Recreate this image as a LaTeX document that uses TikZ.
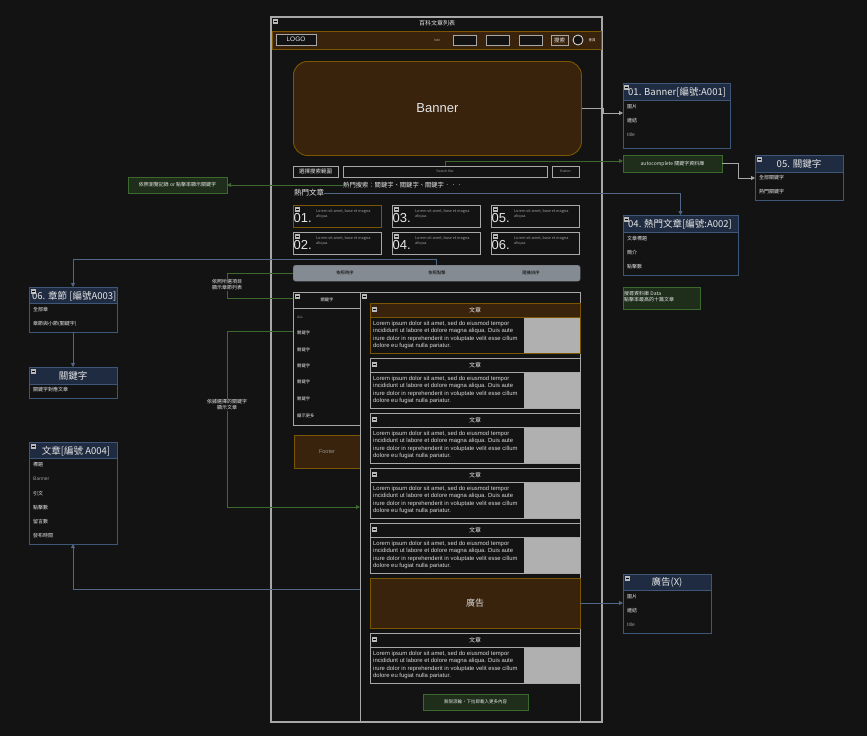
\documentclass[tikz,border=0pt]{standalone}
\usepackage{fontspec}
\setmainfont{Noto Sans CJK TC}
\newfontfamily\lat{Liberation Sans}
\usetikzlibrary{arrows.meta,calc}
\definecolor{bg}{HTML}{131313}
\definecolor{frame}{HTML}{A8A8A8}
\definecolor{txt}{HTML}{E6E6E6}
\definecolor{brfill}{HTML}{3A230C}
\definecolor{brline}{HTML}{7A5600}
\definecolor{blfill}{HTML}{1F2B40}
\definecolor{blline}{HTML}{3E5678}
\definecolor{grfill}{HTML}{1E2E1B}
\definecolor{grline}{HTML}{3C6A2E}
\definecolor{barfill}{HTML}{858B92}
\definecolor{imgfill}{HTML}{B0B0B0}
\newcommand\rbox[6][]{\node[rect,#1,minimum width={#5-#3},minimum height={#6-#4},anchor=north west] (#2) at (#3,#4) {};}
\tikzset{
  rect/.style={draw=frame,line width=0.9pt,inner sep=0pt,outer sep=0pt},
  brown/.style={fill=brfill,draw=brline},
  blue/.style={fill=bg,draw=blline},
  bhead/.style={fill=blfill,draw=blline},
  green/.style={fill=grfill,draw=grline},
  t/.style={text=txt,inner sep=0pt,font=\fontsize{5}{6}\selectfont},
  tl/.style={t,anchor=west},
  dim/.style={text=gray!80},
  head/.style={text=txt,inner sep=0pt,font=\fontsize{9.5}{10}\selectfont},
  mini/.pic={\fill[frame!80!white] (0,0) rectangle (5,5); \draw[black,line width=0.6pt] (1,2.5)--(4,2.5);},
  conn/.style={line width=0.8pt,-{Triangle[length=4pt,width=4pt]}},
  bconn/.style={conn,draw=blline!90!white},
  gconn/.style={conn,draw=grline},
  wconn/.style={conn,draw=frame},
  gline/.style={line width=0.8pt,draw=grline},
}
\begin{document}
\begin{tikzpicture}[x=1pt,y=-1pt]
\fill[bg] (0,0) rectangle (867,736);
\useasboundingbox (0,0) rectangle (867,736);

% ---------- main frame ----------
\rbox[line width=1.1pt]{frame}{271}{17}{602}{722}
\pic at (273,19) {mini};
\node[t] (ttl) at (437,23) {\fontsize{6}{6}\selectfont 百科文章列表};
\rbox[brown]{hdr}{272}{31}{601}{49}
\rbox[fill=bg]{logo}{276}{34}{316}{45}
\node[t] (logot) at (logo) {\lat\fontsize{6.5}{6}\selectfont LOGO};
\node[t,dim] (navt) at (437,40) {\lat\fontsize{4}{4}\selectfont nav};
\rbox[fill=bg]{nav1}{453}{35}{476}{45}
\rbox[fill=bg]{nav2}{486}{35}{509}{45}
\rbox[fill=bg]{nav3}{519}{35}{542}{45}
\rbox{srch}{551}{35}{568}{45}
\node[t] (srcht) at (srch) {\fontsize{5.5}{6}\selectfont 搜索};
\node[draw=txt,circle,minimum size=10pt,inner sep=0pt,line width=0.8pt,fill=bg] (avatar) at (578,40) {};
\node[t] (membert) at (592,40) {\fontsize{3.5}{4}\selectfont 會員};

% banner
\node[brown,line width=0.9pt,rounded corners=14pt,minimum width=288,minimum height=94,anchor=north west,inner sep=0pt] (banner) at (293,61) {};
\node[text=txt,font=\lat\fontsize{13}{14}\selectfont] (bannert) at (banner) {Banner};

% search row
\rbox{scope1}{293}{166}{338}{177}
\node[t] (scope1t) at (scope1) {\fontsize{5.5}{6}\selectfont 選擇搜索範圍};
\rbox{sbar}{343}{166}{547}{177}
\node[t,dim] (sbart) at (sbar) {\lat\fontsize{3.5}{4}\selectfont Search Bar};
\rbox{sbtn}{552}{166}{579}{177}
\node[t,dim] (sbtnt) at (sbtn) {\lat\fontsize{3.5}{4}\selectfont Button};
\node[t,anchor=west] (hotsearch) at (343,185) {\fontsize{6.3}{7}\selectfont 熱門搜索：關鍵字、關鍵字、關鍵字．．．};
\node[t,anchor=west] (hottitle) at (294,193) {\fontsize{7.5}{8}\selectfont 熱門文章};

% hot cards
\foreach \n/\x/\y/\c in {01/293/205/brline,03/392/205/frame,05/491/205/frame,02/293/232/frame,04/392/232/frame,06/491/232/frame}{
  \node[rect,draw=\c,minimum width=88,minimum height=22,anchor=north west] (card\n) at (\x,\y) {};
  \pic at (\x+2,\y+2) {mini};
  \node[text=txt,inner sep=0pt,anchor=west,font=\lat\fontsize{13}{13}\selectfont] (cardn\n) at (\x+0.5,\y+13) {\n.};
  \node[text=gray!75,inner sep=0pt,anchor=north west,align=left,font=\fontsize{3.8}{5.5}\selectfont] (cardt\n) at (\x+23,\y+4) {Lorem sit amet, base et magna\\aliqua.};
}

% gray bar
\node[fill=barfill,draw=barfill!80!black,rounded corners=2.5pt,minimum width=287,minimum height=16,anchor=north west,inner sep=0pt] (graybar) at (293,265) {};
\node[t,text=black] (gb1) at (345,273) {\fontsize{4.3}{4}\selectfont 依照時序};
\node[t,text=black] (gb2) at (437,273) {\fontsize{4.3}{4}\selectfont 依照點擊};
\node[t,text=black] (gb3) at (531,273) {\fontsize{4.3}{4}\selectfont 隨機排序};

% left list
\rbox{leftlist}{293}{292}{360}{425}
\draw[frame,line width=0.9pt] (293,308) -- (360,308);
\pic at (295,294) {mini};
\node[t] (llh) at (327,300) {\fontsize{4.3}{4}\selectfont 關鍵字};
\node[tl,dim] (ll0) at (297,317) {\lat\fontsize{3.5}{4}\selectfont ALL};
\foreach \k/\y in {1/333,2/350,3/366,4/382,5/399}{
  \node[tl] (ll\k) at (297,\y) {\fontsize{4.3}{4}\selectfont 關鍵字};
}
\node[tl] (llmore) at (297,416) {\fontsize{4.3}{4}\selectfont 顯示更多};
\rbox[brown]{footer}{294}{435}{360}{468}
\node[t,text=gray!85] (footert) at (footer) {\lat\fontsize{5.5}{5}\selectfont Footer};

% main column
\rbox{maincol}{360}{292}{580}{722}
\pic at (362,294) {mini};
\foreach \y/\hf/\hd [count=\k] in {303/brfill/brline,358/bg/frame,413/bg/frame,468/bg/frame,523/bg/frame,633/bg/frame}{
  \node[rect,fill=\hf,draw=\hd,minimum width=210,minimum height=14,anchor=north west] (arth\k) at (370,\y) {};
  \node[rect,fill=bg,draw=\hd,minimum width=210,minimum height=36,anchor=north west] (artb\k) at (370,\y+14) {};
  \fill[imgfill] (524,\y+15) rectangle (580,\y+50);
  \pic at (372,\y+4) {mini};
  \node[t] (artt\k) at (475,\y+7) {\fontsize{6}{6}\selectfont 文章};
  \node[text=txt!85!gray,inner sep=0pt,anchor=north west,align=left,font=\lat\fontsize{5.9}{7.4}\selectfont] (artl\k) at (373,\y+18) {Lorem ipsum dolor sit amet, sed do eiusmod tempor\\incididunt ut labore et dolore magna aliqua. Duis aute\\irure dolor in reprehenderit in voluptate velit esse cillum\\dolore eu fugiat nulla pariatur.};
}
\rbox[brown]{ad}{370}{578}{580}{628}
\node[text=txt!85!gray,font=\fontsize{9}{10}\selectfont,inner sep=0pt] (adt) at (ad) {廣告};
\rbox[green]{more}{423}{694}{528}{710}
\node[t] (moret) at (more) {\fontsize{4.5}{5}\selectfont 無限滾輪，下拉即載入更多內容};

% ---------- right side ----------
% 01 Banner
\rbox[blue]{b01}{623}{83}{730}{148}
\rbox[bhead]{b01h}{623}{83}{730}{100}
\pic at (624,85) {mini};
\node[head,anchor=west] (b01t) at (628,92) {01. Banner[編號:A001]};
\foreach \s/\y [count=\k] in {圖片/107,連結/121}{\node[tl] (b01i\k) at (627,\y) {\s};}
\node[tl,dim] (b01i3) at (627,135) {\lat title};

% autocomplete
\rbox[green]{auto}{623}{155}{722}{172}
\node[t] (autot) at (auto) {autocomplete 關鍵字資料庫};

% 05
\rbox[blue]{k05}{755}{155}{843}{200}
\rbox[bhead]{k05h}{755}{155}{843}{172}
\pic at (757,157) {mini};
\node[head] (k05t) at (799,164) {05. 關鍵字};
\node[tl] (k05i1) at (759,178) {全部關鍵字};
\node[tl] (k05i2) at (759,192) {熱門關鍵字};

% 04
\rbox[blue]{k04}{623}{215}{738}{275}
\rbox[bhead]{k04h}{623}{215}{738}{232}
\pic at (624,217) {mini};
\node[head,anchor=west] (k04t) at (628,224) {04. 熱門文章[編號:A002]};
\foreach \s/\y [count=\k] in {文章標題/239,簡介/253,點擊數/267}{\node[tl] (k04i\k) at (627,\y) {\s};}

% green note right
\rbox[green]{rnote}{623}{287}{700}{309}
\node[t,anchor=north west,align=left] (rnotet) at (624,291) {搜尋資料庫 Data\\點擊率最高的十篇文章};

% ad X
\rbox[blue]{adx}{623}{574}{711}{633}
\rbox[bhead]{adxh}{623}{574}{711}{590}
\pic at (625,576) {mini};
\node[head] (adxt) at (667,582) {廣告(X)};
\foreach \s/\y [count=\k] in {圖片/597,連結/611}{\node[tl] (adxi\k) at (627,\y) {\s};}
\node[tl,dim] (adxi3) at (627,625) {\lat title};

% ---------- left side ----------
\rbox[green]{lnote}{128}{177}{227}{193}
\node[t] (lnotet) at (lnote) {依照瀏覽記錄 or 點擊率顯示關鍵字};

\rbox[blue]{k06}{29}{287}{117}{332}
\rbox[bhead]{k06h}{29}{287}{117}{303}
\pic at (31,289) {mini};
\node[head,anchor=west] (k06t) at (32,296) {06. 章節 [編號A003]};
\node[tl] (k06i1) at (33,310) {全部章};
\node[tl] (k06i2) at (33,324) {章節與小節(關鍵字)};

\rbox[blue]{kw}{29}{367}{117}{398}
\rbox[bhead]{kwh}{29}{367}{117}{384}
\pic at (31,369) {mini};
\node[head] (kwt) at (73,376) {關鍵字};
\node[tl] (kwi1) at (33,390) {關鍵字對應文章};

\rbox[blue]{art}{29}{442}{117}{544}
\rbox[bhead]{arth}{29}{442}{117}{458}
\pic at (31,444) {mini};
\node[head] (artxt) at (76,451) {文章[編號 A004]};
\foreach \s/\y [count=\k] in {標題/465,引文/494,點擊數/508,留言數/522,發布時間/536}{\node[tl] (arti\k) at (33,\y) {\s};}
\node[tl,dim] (artib) at (33,479) {\lat Banner};

% ---------- connectors ----------
\draw[wconn] (banner.east) -- ++(21,0) |- ($(b01.north west)+(0,30)$);
\draw[gconn] (sbar.north) |- ($(auto.west)+(0,-2.5)$);
\draw[wconn] (auto.east) -- ++(16,0) |- ($(k05.north west)+(0,23)$);
\draw[gconn] (hotsearch.west) -- (hotsearch.west -| lnote.east);
\draw[bconn] (hottitle.east) -| (k04.north);
\draw[bconn] (graybar.north) -- ++(0,-6) -| (k06.north);
\draw[bconn] (k06.south) -- (kw.north);
\draw[gline] (graybar.west) -- ++(-66,0) |- ($(leftlist.north west)+(0,6)$);
\draw[gconn] ($(leftlist.north west)+(0,39)$) -- ++(-66,0) |- ($(maincol.north west)+(0,215)$);
\draw[bconn] (ad.east) -- (ad.east -| adx.west);
\draw[bconn] ($(maincol.north west)+(0,297)$) -| (art.south);

\node[t,fill=bg,align=center,inner sep=1pt] (lab1) at (227,285) {依照所選項目\\顯示章節列表};
\node[t,fill=bg,align=center,inner sep=1pt] (lab2) at (227,405) {依據選擇的關鍵字\\顯示文章};
\end{tikzpicture}
\end{document}
